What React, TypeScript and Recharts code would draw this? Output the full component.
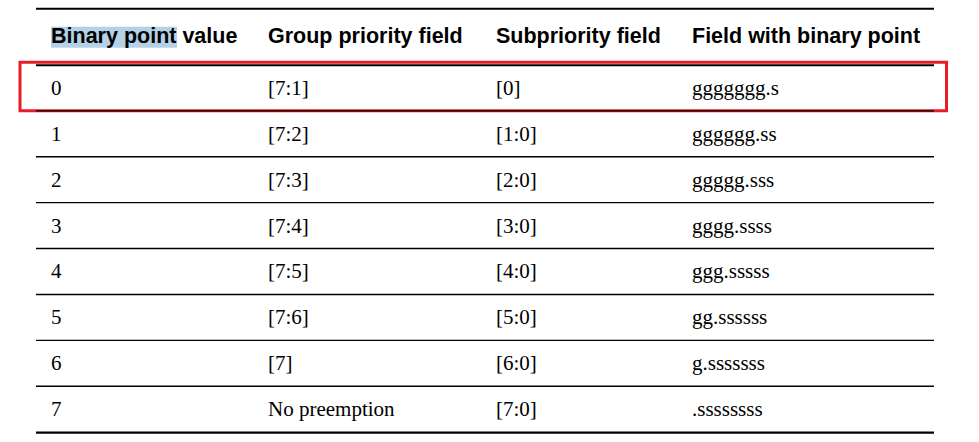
import {
  ComposedChart,
  ReferenceArea,
  ReferenceLine,
  Scatter,
  XAxis,
  YAxis,
} from 'recharts';

const headers = [
  'Binary point value',
  'Group priority field',
  'Subpriority field',
  'Field with binary point',
];
const binaryPoint = ['0', '1', '2', '3', '4', '5', '6', '7'];
const groupPriority = ['[7:1]', '[7:2]', '[7:3]', '[7:4]', '[7:5]', '[7:6]', '[7]', 'No preemption'];
const subpriority = ['[0]', '[1:0]', '[2:0]', '[3:0]', '[4:0]', '[5:0]', '[6:0]', '[7:0]'];
const fieldFormat = [
  'ggggggg.s',
  'gggggg.ss',
  'ggggg.sss',
  'gggg.ssss',
  'ggg.sssss',
  'gg.ssssss',
  'g.sssssss',
  '.ssssssss',
];
const highlightedRow = 0;

// layout
const W = 979;
const H = 442;
const COL_X = [51, 268, 496, 692];
const RULE_X: [number, number] = [36, 934];
const ROW_DOMAIN: [number, number] = [-1.915, 7.715];
const HEADER_ROW = -1.1;
const TOP_RULE = -1.725;

const SERIF = '"Liberation Serif", "Times New Roman", serif';
const SANS = '"Liberation Sans", Arial, sans-serif';

const columns = [binaryPoint, groupPriority, subpriority, fieldFormat];
const cells = columns.map((col, c) =>
  col.map((label, r) => ({ x: COL_X[c], y: r, label }))
);
const headerCells = headers.map((label, c) => ({ x: COL_X[c], y: HEADER_ROW, label, c }));

function CellText(props: any) {
  const { cx = 0, cy = 0, payload } = props;
  return (
    <text x={cx} y={cy + 7} fill="#000" fontFamily={SERIF} fontSize={21}>
      {payload?.label}
    </text>
  );
}

function HeaderText(props: any) {
  const { cx = 0, cy = 0, payload } = props;
  return (
    <g>
      {payload?.c === 0 && (
        <rect x={cx} y={cy - 10.7} width={126} height={21} fill="#b4d1e6" />
      )}
      <text x={cx} y={cy + 5.6} fill="#000" fontFamily={SANS} fontSize={21.5} fontWeight={700}>
        {payload?.label}
      </text>
    </g>
  );
}

const seg = (y: number) => [
  { x: RULE_X[0], y },
  { x: RULE_X[1], y },
];

export default function App() {
  const thinRules = binaryPoint.slice(0, -1).map((_, r) => r + 0.5);
  return (
    <div style={{ position: 'absolute', left: 0, top: 0, width: W, height: H, background: '#fff' }}>
      <ComposedChart width={W} height={H} margin={{ top: 0, right: 0, bottom: 0, left: 0 }}>
        <XAxis type="number" dataKey="x" domain={[0, W]} hide allowDataOverflow />
        <YAxis type="number" dataKey="y" domain={ROW_DOMAIN} reversed hide allowDataOverflow />
        <ReferenceLine segment={seg(TOP_RULE)} stroke="#000" strokeWidth={2} ifOverflow="visible" />
        <ReferenceLine segment={seg(-0.495)} stroke="#000" strokeWidth={2} ifOverflow="visible" />
        {thinRules.map((y) => (
          <ReferenceLine key={y} segment={seg(y)} stroke="#000" strokeWidth={1.4} ifOverflow="visible" />
        ))}
        <ReferenceLine segment={seg(7.51)} stroke="#000" strokeWidth={2.2} ifOverflow="visible" />
        <ReferenceArea
          x1={20}
          x2={946.5}
          y1={highlightedRow - 0.558}
          y2={highlightedRow + 0.497}
          fill="none"
          fillOpacity={0}
          stroke="#e81c24"
          strokeWidth={3}
          ifOverflow="visible"
        />
        <Scatter data={headerCells} shape={<HeaderText />} isAnimationActive={false} />
        {cells.map((data, c) => (
          <Scatter key={c} data={data} shape={<CellText />} isAnimationActive={false} />
        ))}
      </ComposedChart>
    </div>
  );
}
